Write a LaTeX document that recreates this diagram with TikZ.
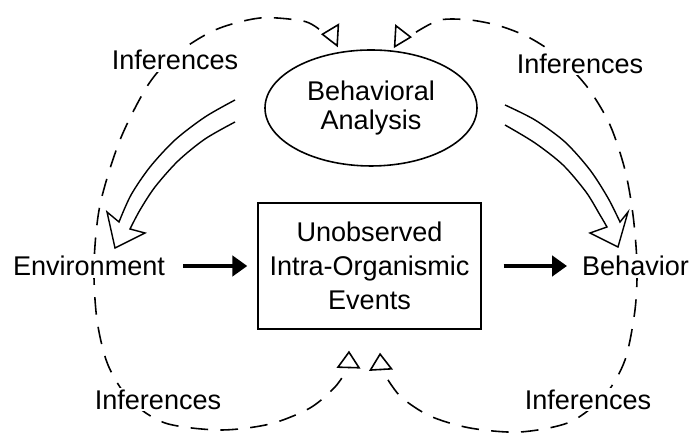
\documentclass[tikz,border=0pt]{standalone}
\usepackage{fontspec}
\setmainfont{Liberation Sans}
\usetikzlibrary{arrows.meta,shapes.geometric}

\begin{document}
\begin{tikzpicture}[
		every node/.style={font=\fontsize{15.4}{16}\selectfont},
		term/.style={fill=white, inner sep=1pt},
		infer/.style={line width=0.9pt, dash pattern=on 10pt off 7pt},
		opentip/.style={line width=0.9pt, -{Triangle[open,length=10pt,width=13.5pt]}},
		hollow/.style={line width=0.8pt, line join=miter},
		solidarrow/.style={line width=2.6pt, -{Triangle[length=8.5pt,width=11.5pt]}}
	]
		
		\useasboundingbox (0,0) rectangle (13.8,8.7);
		
		\node[ellipse, draw, line width=0.9pt, minimum width=4.24cm, minimum height=2.32cm, inner sep=0pt, align=center] (ana) at (7.42,6.54) {Behavioral\\Analysis};
		\node[draw, line width=0.8pt, minimum width=4.46cm, minimum height=2.52cm, align=center, font=\fontsize{15.4}{19.4}\selectfont] (box) at (7.39,3.38) {Unobserved\\Intra-Organismic\\Events};
		
		% dashed loops, ellipse to box
		\draw[infer] plot[smooth] coordinates {([shift={(-1.04,0.40)}]ana.north) (6.06,8.28) (5.20,8.34) (4.30,8.10) (3.50,7.60) (2.96,7.00) (2.40,5.90) (2.00,4.60) (1.88,3.40) (1.94,2.30) (2.16,1.40) (2.60,0.70) (3.30,0.24) (4.40,0.10) (5.40,0.22) (6.20,0.54) (6.70,0.96) ([shift={(-0.43,-0.77)}]box.south)};
		\draw[infer] plot[smooth] coordinates {([shift={(0.90,0.34)}]ana.north) (8.80,8.30) (9.40,8.30) (10.00,8.18) (10.60,7.94) (11.20,7.54) (11.76,6.94) (12.20,6.20) (12.50,5.30) (12.66,4.40) (12.74,3.40) (12.70,2.50) (12.50,1.50) (12.10,0.80) (11.40,0.26) (10.40,0.06) (9.40,0.14) (8.60,0.38) (8.00,0.78) ([shift={(0.25,-0.81)}]box.south)};
		
		\draw[opentip] ([shift={(-0.66,0.28)}]ana.north) -- ([shift={(-1.00,0.30)}]ana.north);
		\draw[opentip] ([shift={(0.48,0.26)}]ana.north) -- ([shift={(0.82,0.24)}]ana.north);
		\draw[opentip] ([shift={(-0.42,-0.77)}]box.south) -- ([shift={(-0.41,-0.42)}]box.south);
		\draw[opentip] ([shift={(0.23,-0.81)}]box.south) -- ([shift={(0.21,-0.46)}]box.south);
		
		\node[term] (infa) at (3.50,7.50) {Inferences};
		\node[term] (infb) at (11.60,7.43) {Inferences};
		\node[term] (infc) at (3.16,0.71) {Inferences};
		\node[term] (infd) at (11.76,0.71) {Inferences};
		
		\node[term] (env) at (1.78,3.38) {Environment};
		\node[term, anchor=west] (beh) at (11.60,3.38) {Behavior};
		
		% hollow arrows
		\draw[hollow] plot[smooth] coordinates {(4.70,6.70) (4.10,6.36) (3.50,5.90) (3.00,5.36) (2.62,4.80) (2.38,4.26)} -- (2.14,4.46) -- (2.30,3.74) -- (2.90,4.04) -- plot[smooth] coordinates {(2.60,4.12) (2.80,4.50) (3.10,4.96) (3.56,5.48) (4.10,5.92) (4.70,6.26)};
		\draw[hollow] plot[smooth] coordinates {(10.10,6.60) (10.70,6.30) (11.30,5.86) (11.80,5.30) (12.16,4.74) (12.40,4.26)} -- (12.56,4.46) -- (12.36,3.76) -- (11.80,4.04) -- plot[smooth] coordinates {(12.14,4.16) (12.00,4.40) (11.72,4.86) (11.26,5.40) (10.70,5.84) (10.10,6.20)};
		
		\draw[solidarrow, shorten <=0.32cm, shorten >=0.2cm] (env.east) -- (box.west);
		\draw[solidarrow, shorten <=0.44cm, shorten >=0.26cm] (box.east) -- (beh.west);
		
	\end{tikzpicture}
\end{document}
